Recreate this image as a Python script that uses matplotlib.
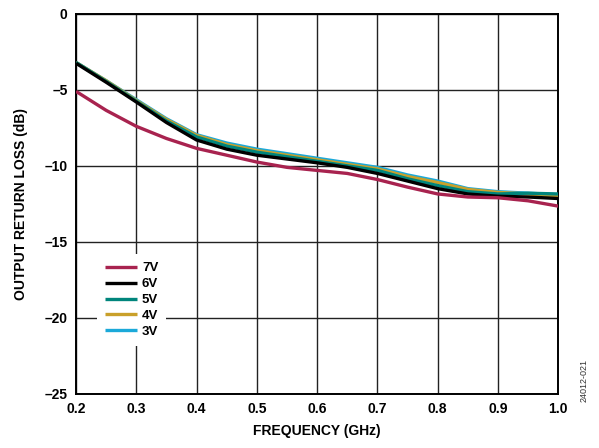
import matplotlib
matplotlib.use("Agg")
import matplotlib.pyplot as plt

freq = [0.20, 0.25, 0.30, 0.35, 0.40, 0.45, 0.50, 0.55, 0.60,
        0.65, 0.70, 0.75, 0.80, 0.85, 0.90, 0.95, 1.00]
rl_7v = [-5.1, -6.35, -7.4, -8.2, -8.85, -9.3, -9.75, -10.1, -10.3,
         -10.5, -10.9, -11.4, -11.85, -12.05, -12.1, -12.3, -12.65]
rl_6v = [-3.25, -4.5, -5.8, -7.15, -8.3, -8.9, -9.3, -9.55, -9.8,
         -10.1, -10.5, -11.0, -11.5, -11.85, -12.0, -12.05, -12.15]
rl_5v = [-3.2, -4.45, -5.75, -7.05, -8.1, -8.7, -9.1, -9.4, -9.7,
         -10.0, -10.3, -10.85, -11.3, -11.7, -11.85, -11.8, -11.85]
rl_4v = [-3.2, -4.4, -5.7, -6.95, -8.0, -8.6, -9.0, -9.3, -9.6,
         -9.9, -10.2, -10.7, -11.1, -11.55, -11.75, -11.85, -12.0]
rl_3v = [-3.2, -4.4, -5.65, -6.9, -7.95, -8.5, -8.9, -9.2, -9.5,
         -9.8, -10.1, -10.6, -11.0, -11.5, -11.7, -11.8, -11.9]

series = [("7V", rl_7v, "#A8234F"), ("6V", rl_6v, "#000000"),
          ("5V", rl_5v, "#00857C"), ("4V", rl_4v, "#C9A02A"),
          ("3V", rl_3v, "#1BA9D9")]

xticks = [0.2, 0.3, 0.4, 0.5, 0.6, 0.7, 0.8, 0.9, 1.0]
yticks = [0, -5, -10, -15, -20, -25]

plt.rcParams["font.family"] = ["Liberation Sans", "DejaVu Sans"]
plt.rcParams["font.weight"] = "bold"

fig = plt.figure(figsize=(5.99, 4.48), dpi=100)
ax = fig.add_axes([0.127, 0.121, 0.805, 0.848])

handles = {}
for name, vals, col in reversed(series):
    h, = ax.plot(freq, vals, color=col, lw=2.4, solid_capstyle="butt", zorder=3)
    handles[name] = h

ax.set_xlim(0.2, 1.0)
ax.set_ylim(-25, 0)
ax.set_xticks(xticks)
ax.set_xticklabels([f"{t:.1f}" for t in xticks], fontsize=10, fontweight="bold")
ax.set_yticks(yticks)
ax.set_yticklabels([str(t).replace("-", "\u2013") for t in yticks],
                   fontsize=10, fontweight="bold")
ax.tick_params(length=0, pad=6)
ax.grid(True, color="#222222", lw=1.0, zorder=1)
for s in ax.spines.values():
    s.set_linewidth(1.4)
ax.set_axisbelow(True)

ax.set_xlabel("FREQUENCY (GHz)", fontsize=10, fontweight="bold", labelpad=6)
ax.set_ylabel("OUTPUT RETURN LOSS (dB)", fontsize=10, fontweight="bold", labelpad=12)

leg = ax.legend([handles[n] for n, _, _ in series], [n for n, _, _ in series],
                loc="upper left", bbox_to_anchor=(0.03, 0.385), fontsize=9.5,
                handlelength=2.4, labelspacing=0.28, handletextpad=0.4,
                borderpad=0.6, frameon=True, fancybox=False)
leg.get_frame().set_facecolor("white")
leg.get_frame().set_edgecolor("none")
leg.get_frame().set_alpha(1)
leg.set_zorder(5)
for t in leg.get_texts():
    t.set_fontweight("bold")

fig.text(0.975, 0.15, "24012-021", rotation=90, fontsize=6.5,
         fontweight="normal", ha="center", va="center", color="#333333")

fig.savefig("out.png", dpi=100, facecolor="white")
